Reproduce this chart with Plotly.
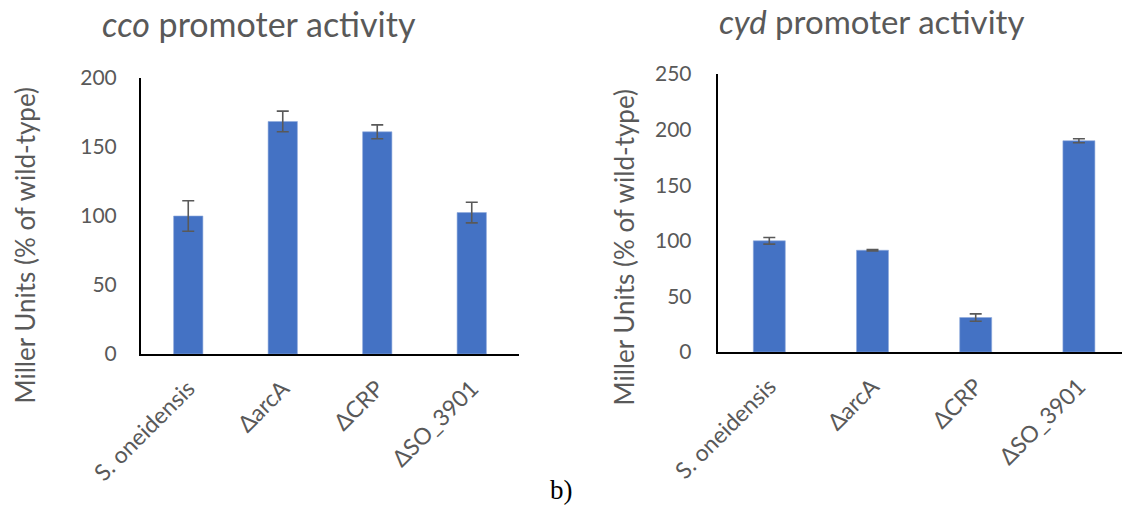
import plotly.graph_objects as go

categories = ["S. oneidensis", "\u0394arcA", "\u0394CRP", "\u0394SO_3901"]
cco_values = [100, 168.5, 161, 102.5]
cco_errors = [11, 7.5, 5, 7.5]
cyd_values = [100, 91.5, 31, 190]
cyd_errors = [3, 0.6, 3.3, 1.8]
cco_ticks = [0, 50, 100, 150, 200]
cyd_ticks = [0, 50, 100, 150, 200, 250]

W, H = 1122, 506
BAR = "#4472C4"
GREY = "#595959"
FONT = "Lato"

def px(x):
    return x / W

def py(y):
    return (H - y) / H

fig = go.Figure()
fig.add_trace(go.Bar(
    x=categories, y=cco_values, width=0.31, marker_color=BAR,
    marker_line=dict(color="#8EA9DB", width=0.6),
    error_y=dict(type="data", array=cco_errors, color=GREY, thickness=1.6, width=6),
    xaxis="x", yaxis="y", showlegend=False))
fig.add_trace(go.Bar(
    x=categories, y=cyd_values, width=0.31, marker_color=BAR,
    marker_line=dict(color="#8EA9DB", width=0.6),
    error_y=dict(type="data", array=cyd_errors, color=GREY, thickness=1.6, width=6),
    xaxis="x2", yaxis="y2", showlegend=False))

axis_common = dict(showgrid=False, zeroline=False, showline=True, linecolor="black",
                   linewidth=2, ticks="", automargin=False)
ytick_font = dict(family=FONT, size=21, color=GREY)
xtick_font = dict(family=FONT, size=23, color=GREY)

right_x0 = 717.7
cat_w_right = 103.2
right_range_end = -0.5 + (W - right_x0) / cat_w_right

fig.update_layout(
    width=W, height=H,
    margin=dict(l=0, r=0, t=0, b=0, pad=0, autoexpand=False),
    plot_bgcolor="white", paper_bgcolor="white",
    font=dict(family=FONT, color=GREY),
    xaxis=dict(domain=[px(141), px(519)], anchor="y", tickangle=-45,
               range=[-0.5, 3.5], tickfont=xtick_font, ticklabelstandoff=10, **axis_common),
    yaxis=dict(domain=[py(354), py(78)], anchor="x", range=[0, 200],
               tickvals=cco_ticks, ticklabelstandoff=18, tickfont=ytick_font, **axis_common),
    xaxis2=dict(domain=[px(right_x0), 1.0], anchor="y2", tickangle=-45,
                range=[-0.5, right_range_end], tickfont=xtick_font, ticklabelstandoff=10, **axis_common),
    yaxis2=dict(domain=[py(352), py(74)], anchor="x2", range=[0, 250],
                tickvals=cyd_ticks, ticklabelstandoff=20, tickfont=ytick_font, **axis_common),
    annotations=[
        dict(text="<i>cco</i> promoter activity", x=px(259), y=py(24), xref="paper", yref="paper",
             showarrow=False, font=dict(family=FONT, size=34, color=GREY), xanchor="center", yanchor="middle"),
        dict(text="<i>cyd</i> promoter activity", x=px(871), y=py(21), xref="paper", yref="paper",
             showarrow=False, font=dict(family=FONT, size=33, color=GREY), xanchor="center", yanchor="middle"),
        dict(text="Miller Units (% of wild-type)", x=px(24), y=py(245.5), xref="paper", yref="paper",
             showarrow=False, textangle=-90, font=dict(family=FONT, size=26, color=GREY),
             xanchor="center", yanchor="middle"),
        dict(text="Miller Units (% of wild-type)", x=px(624), y=py(247.5), xref="paper", yref="paper",
             showarrow=False, textangle=-90, font=dict(family=FONT, size=26, color=GREY),
             xanchor="center", yanchor="middle"),
        dict(text="b)", x=px(561), y=py(490), xref="paper", yref="paper",
             showarrow=False, font=dict(family="Liberation Serif", size=27, color="black"),
             xanchor="center", yanchor="middle"),
    ],
)

fig.write_html("out.html")
